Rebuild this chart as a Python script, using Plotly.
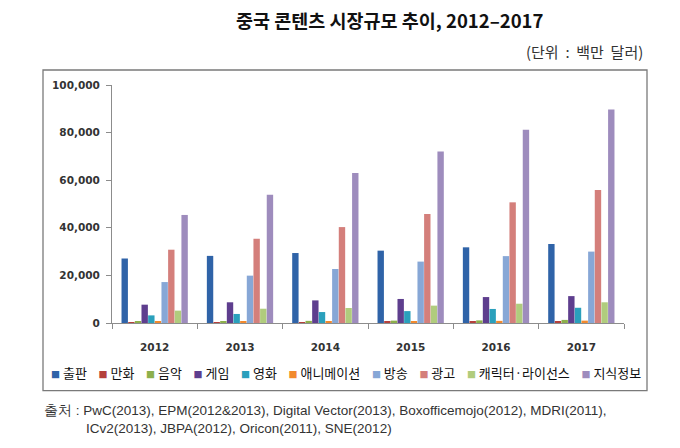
import plotly.graph_objects as go

# ---- data ----
years = ['2012', '2013', '2014', '2015', '2016', '2017']
series_names = ['출판', '만화', '음악', '게임', '영화', '애니메이션', '방송', '광고', '캐릭터·라이선스', '지식정보']
publishing = [27100, 28200, 29400, 30400, 31800, 33200]
comics = [300, 350, 400, 450, 500, 550]
music = [600, 700, 900, 1000, 1100, 1300]
games = [7700, 8700, 9500, 10100, 10900, 11300]
film = [3200, 3800, 4600, 5000, 5900, 6400]
animation = [500, 600, 700, 800, 900, 1000]
broadcast = [17200, 19900, 22700, 25800, 28100, 30000]
advertising = [30800, 35400, 40300, 45800, 50700, 55900]
character = [5200, 6000, 6300, 7300, 8100, 8700]
knowledge = [45400, 53900, 63000, 72100, 81200, 89700]
y_ticks = [0, 20000, 40000, 60000, 80000, 100000]

title_text = '중국 콘텐츠 시장규모 추이, 2012–2017'
unit_text = '(단위\u00a0\u00a0:\u00a0\u00a0백만\u00a0\u00a0달러)'
source_line1 = '출처 : PwC(2013), EPM(2012&2013), Digital Vector(2013), Boxofficemojo(2012), MDRI(2011),'
source_line2 = 'ICv2(2013), JBPA(2012), Oricon(2011), SNE(2012)'

all_values = [publishing, comics, music, games, film, animation,
              broadcast, advertising, character, knowledge]
colors = ['#2F63A8', '#B5403C', '#8DB04C', '#5E3E8E', '#2AA0BC', '#F28A2E',
          '#87A7D6', '#D47F7B', '#B0CC7D', '#9E8CBD']

# ---- layout helpers ----
# the page places the figure 8px in from the top-left corner (body margin)
OFF = 8
W, H = 672, 440
L, R, T = 104, 56, 77
B = H - (323.3 - OFF)
PW, PH = W - L - R, H - T - B


def px_x(px):
    return (px - OFF - L) / PW


def px_y(py):
    return (H - B - (py - OFF)) / PH


fig = go.Figure()
for name, vals, col in zip(series_names, all_values, colors):
    fig.add_trace(go.Bar(x=years, y=vals, name=name, marker_color=col,
                         marker_line_width=0))

axis_font = dict(family='DejaVu Sans, Verdana, sans-serif', size=10.5,
                 color='#333333', weight='bold')

fig.update_layout(
    width=W, height=H,
    margin=dict(l=L, r=R, t=T, b=B, pad=0),
    paper_bgcolor='white', plot_bgcolor='white',
    barmode='group', bargap=0.22, bargroupgap=0.04,
    showlegend=False,
    xaxis=dict(type='category', showgrid=False, showline=True,
               linecolor='#8c8c8c', linewidth=1,
               ticks='outside', tickson='boundaries', ticklen=5,
               tickcolor='#8c8c8c', tickfont=axis_font,
               ticklabelstandoff=14),
    yaxis=dict(range=[0, 100000], tickvals=y_ticks, tickformat=',',
               showgrid=False, showline=True, linecolor='#8c8c8c',
               linewidth=1, ticks='outside', ticklen=5, tickcolor='#8c8c8c',
               tickfont=axis_font, zeroline=False, ticklabelstandoff=4),
)

# chart frame
fig.add_shape(type='rect', xref='paper', yref='paper',
              x0=px_x(43), x1=px_x(647), y0=px_y(391), y1=px_y(70),
              line=dict(color='#7a7a7a', width=1.3), fillcolor='rgba(0,0,0,0)',
              layer='below')

kfont = 'Noto Sans CJK KR, Noto Sans, sans-serif'

# title
fig.add_annotation(text='<b>' + title_text + '</b>', xref='paper', yref='paper',
                   x=px_x(390), y=px_y(20), xanchor='center', yanchor='middle',
                   showarrow=False, font=dict(family=kfont, size=18.5, color='#111111'))
fig.add_annotation(text=unit_text, xref='paper', yref='paper',
                   x=px_x(645), y=px_y(51), xanchor='right', yanchor='middle',
                   showarrow=False, font=dict(family=kfont, size=15, color='#333333'))

# legend (built from series names and colours)
legend_parts = []
for name, col in zip(series_names, colors):
    legend_parts.append('<span style="color:%s;font-size:9px">■</span>\u00a0%s' % (col, name))
legend_text = '\u00a0\u00a0\u00a0\u00a0'.join(legend_parts)
fig.add_annotation(text=legend_text, xref='paper', yref='paper',
                   x=px_x(346), y=px_y(373), xanchor='center', yanchor='middle',
                   showarrow=False, font=dict(family=kfont, size=13, color='#111111'))

# source
src_font = dict(family='Liberation Sans, Arial, sans-serif', size=13.5, color='#333333')
fig.add_annotation(text=source_line1, xref='paper', yref='paper',
                   x=px_x(42), y=px_y(411), xanchor='left', yanchor='middle',
                   showarrow=False, font=src_font)
fig.add_annotation(text=source_line2, xref='paper', yref='paper',
                   x=px_x(84), y=px_y(429), xanchor='left', yanchor='middle',
                   showarrow=False, font=src_font)

fig.write_html('out.html')
